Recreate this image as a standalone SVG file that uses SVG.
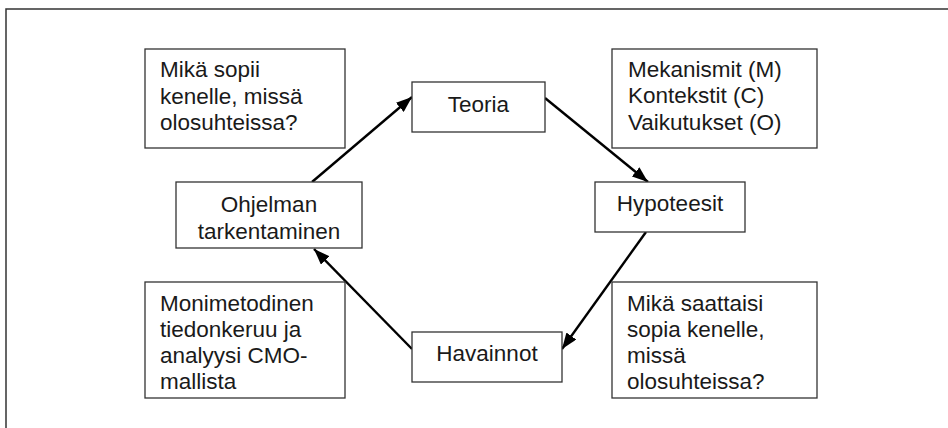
<svg xmlns="http://www.w3.org/2000/svg" width="948" height="428" viewBox="0 0 948 428">
  <defs>
    <style>
      .box { fill: #fff; stroke: #333; stroke-width: 1.3; }
      .frame { fill: none; stroke: #333; stroke-width: 1.5; }
      .edge { fill: none; stroke: #000; stroke-width: 2.4; }
      text { font-family: "Liberation Sans", Arial, sans-serif; font-size: 22.5px; fill: #1a1a1a; }
      .c { text-anchor: middle; }
    </style>
    <marker id="arrow" markerUnits="userSpaceOnUse" markerWidth="16" markerHeight="12" viewBox="0 0 16 12" refX="16" refY="6" orient="auto">
      <path d="M0,0 L16,6 L0,12 Z" fill="#000"/>
    </marker>
  </defs>
  <rect width="948" height="428" fill="#fff"/>
  <!-- outer frame: top and left edges only -->
  <path class="frame" d="M6,428 V9 H948"/>

  <g id="connectors">
    <line class="edge" x1="312" y1="182" x2="412" y2="97" marker-end="url(#arrow)"/>
    <line class="edge" x1="545" y1="98" x2="648" y2="182" marker-end="url(#arrow)"/>
    <line class="edge" x1="646" y1="232" x2="562" y2="349" marker-end="url(#arrow)"/>
    <line class="edge" x1="412" y1="349" x2="314" y2="249" marker-end="url(#arrow)"/>
  </g>

  <g id="note-tl">
    <rect class="box" x="145" y="49" width="200" height="99"/>
    <text x="160" y="77">Mikä sopii<tspan x="160" dy="26.5">kenelle, missä</tspan><tspan x="160" dy="26.5">olosuhteissa?</tspan></text>
  </g>

  <g id="teoria">
    <rect class="box" x="412" y="82" width="133" height="50"/>
    <text class="c" x="478.5" y="112">Teoria</text>
  </g>

  <g id="note-tr">
    <rect class="box" x="612" y="49" width="205" height="99"/>
    <text x="628" y="77">Mekanismit (M)<tspan x="628" dy="26.3">Kontekstit (C)</tspan><tspan x="628" dy="26.3">Vaikutukset (O)</tspan></text>
  </g>

  <g id="ohjelman">
    <rect class="box" x="176" y="182" width="186" height="66"/>
    <text class="c" x="269" y="212">Ohjelman<tspan x="269" dy="26.5">tarkentaminen</tspan></text>
  </g>

  <g id="hypoteesit">
    <rect class="box" x="595" y="182" width="150" height="50"/>
    <text class="c" x="670" y="211">Hypoteesit</text>
  </g>

  <g id="note-bl">
    <rect class="box" x="145" y="282" width="200" height="116"/>
    <text x="160" y="310.5">Monimetodinen<tspan x="160" dy="26.2">tiedonkeruu ja</tspan><tspan x="160" dy="26.2">analyysi CMO-</tspan><tspan x="160" dy="26.2">mallista</tspan></text>
  </g>

  <g id="havainnot">
    <rect class="box" x="412" y="332" width="150" height="50"/>
    <text class="c" x="487" y="361">Havainnot</text>
  </g>

  <g id="note-br">
    <rect class="box" x="612" y="282" width="205" height="116"/>
    <text x="627" y="310.5">Mikä saattaisi<tspan x="627" dy="26.2">sopia kenelle,</tspan><tspan x="627" dy="26.2">missä</tspan><tspan x="627" dy="26.2">olosuhteissa?</tspan></text>
  </g>
</svg>
